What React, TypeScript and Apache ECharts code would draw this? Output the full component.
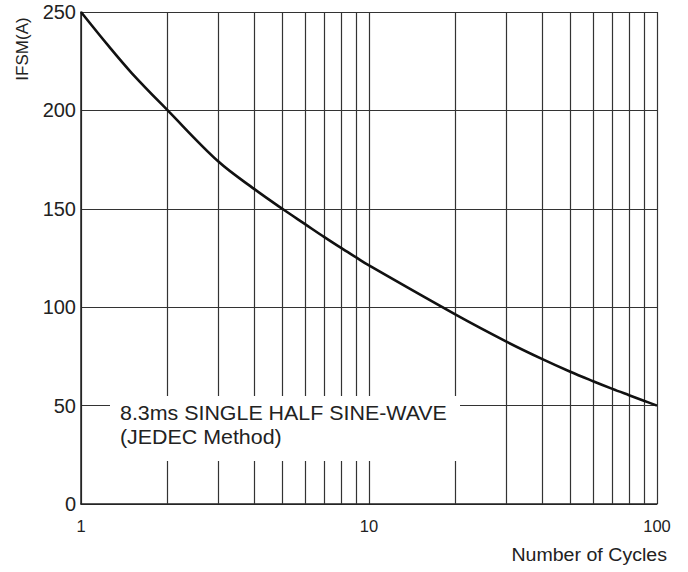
import React, { useEffect, useRef } from "react";
import * as echarts from "echarts";

const cycles = [1, 1.25, 1.5, 2, 3, 4, 5, 6, 7, 8, 9, 10, 20, 30, 40, 50, 60, 70, 80, 90, 100];
const ifsm = [250, 232.5, 219, 200, 174, 160, 150, 142.2, 135.6, 130.1, 125.4, 121.2, 96.2, 82.5, 73.6, 67.2, 62.4, 58.5, 55.3, 52.5, 50];
const gridCycles = [2, 3, 4, 5, 6, 7, 8, 9, 20, 30, 40, 50, 60, 70, 80, 90];
const yMin = 0;
const yMax = 250;
const yInterval = 50;
const yName = "IFSM(A)";
const xName = "Number of Cycles";
const noteLines = ["8.3ms SINGLE HALF SINE-WAVE", "(JEDEC Method)"];

const FONT = "'Liberation Sans', Arial, sans-serif";

export default function App() {
  const ref = useRef<HTMLDivElement>(null);
  useEffect(() => {
    if (!ref.current) return;
    const chart = echarts.init(ref.current, undefined, { renderer: "svg" });
    const gridColor = "#333";
    chart.setOption({
      animation: false,
      backgroundColor: "#fff",
      textStyle: { fontFamily: FONT },
      grid: { left: 81, right: 31, top: 12, bottom: 68, containLabel: false },
      xAxis: {
        type: "log",
        logBase: 10,
        min: 1,
        max: 100,
        axisLine: { show: true, lineStyle: { color: "#222", width: 1.5 } },
        axisTick: { show: false },
        axisLabel: { color: "#222", fontSize: 16.5, margin: 13, fontFamily: FONT },
        splitLine: { show: true, lineStyle: { color: gridColor, width: 1.2 } },
      },
      yAxis: {
        type: "value",
        min: yMin,
        max: yMax,
        interval: yInterval,
        axisLine: { show: true, lineStyle: { color: "#222", width: 1.5 } },
        axisTick: { show: false },
        axisLabel: { color: "#222", fontSize: 20, margin: 5, fontFamily: FONT },
        splitLine: { show: true, lineStyle: { color: gridColor, width: 1.2 } },
      },
      series: [
        {
          type: "line",
          data: cycles.map((c, i) => [c, ifsm[i]]),
          showSymbol: false,
          smooth: 0.35,
          lineStyle: { color: "#111", width: 2.6 },
          z: 5,
          markLine: {
            silent: true,
            symbol: "none",
            label: { show: false },
            lineStyle: { color: gridColor, width: 1.2, type: "solid" },
            data: gridCycles.map((c) => ({ xAxis: c })),
            z: 1,
          },
        },
      ],
      graphic: [
        {
          type: "rect",
          z: 100,
          shape: { x: 110, y: 396, width: 350, height: 65 },
          style: { fill: "#fff" },
        },
        {
          type: "text",
          z: 101,
          x: 120,
          y: 413,
          scaleX: 1.07,
          style: {
            text: noteLines[0],
            fontSize: 20,
            fontFamily: FONT,
            fill: "#222",
            verticalAlign: "middle",
          },
        },
        {
          type: "text",
          z: 101,
          x: 120,
          y: 437,
          scaleX: 1.07,
          style: {
            text: noteLines[1],
            fontSize: 20,
            fontFamily: FONT,
            fill: "#222",
            verticalAlign: "middle",
          },
        },
        {
          type: "text",
          z: 101,
          x: 22,
          y: 49,
          rotation: Math.PI / 2,
          style: {
            text: yName,
            fontSize: 17,
            fontFamily: FONT,
            fill: "#222",
            align: "center",
            verticalAlign: "middle",
          },
        },
        {
          type: "text",
          z: 101,
          x: 667,
          y: 555,
          scaleX: 1.12,
          style: {
            text: xName,
            fontSize: 17.5,
            fontFamily: FONT,
            fill: "#222",
            align: "right",
            verticalAlign: "middle",
          },
        },
      ],
    });
    return () => chart.dispose();
  }, []);
  return <div ref={ref} style={{ width: 688, height: 572, position: "absolute", left: 0, top: 0 }} />;
}
